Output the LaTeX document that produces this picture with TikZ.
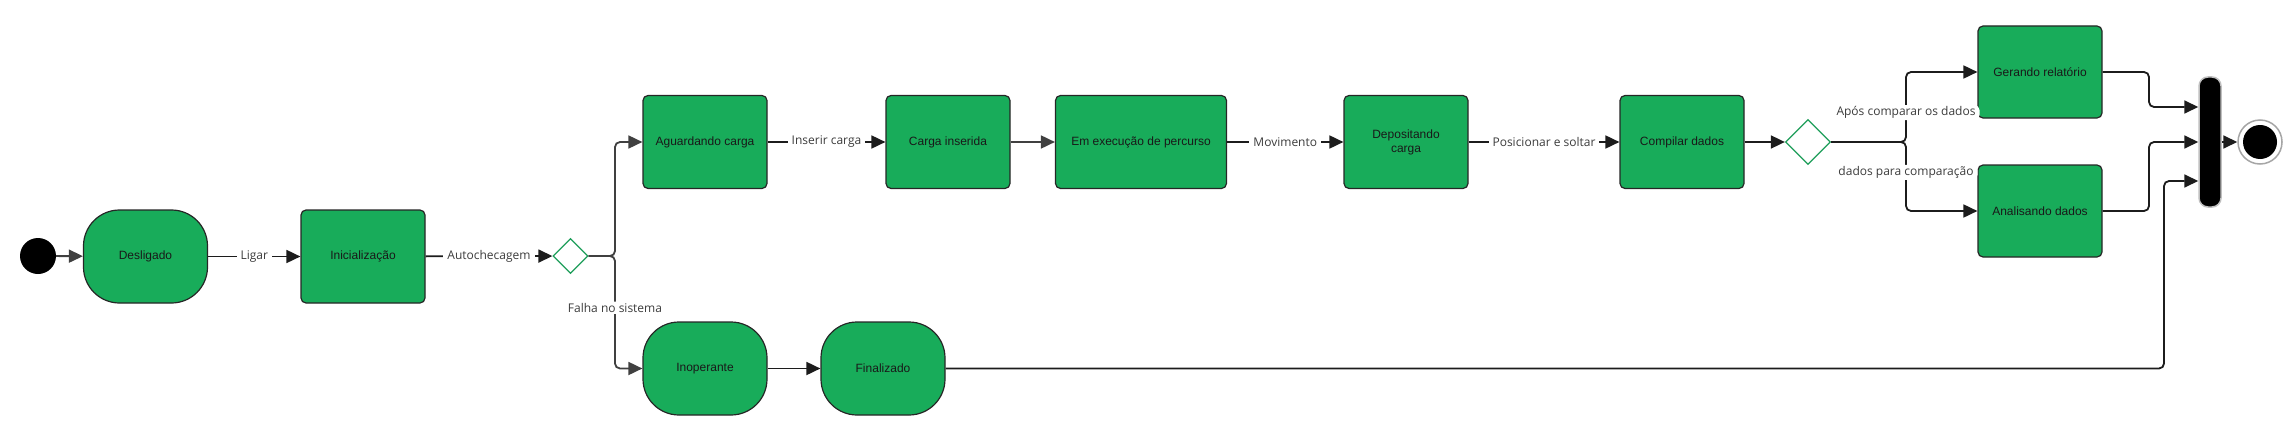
\documentclass[tikz,border=0pt]{standalone}
\usepackage{fontspec}
\setmainfont{Liberation Sans}
\newfontfamily\lblfont{Open Sans}
\usetikzlibrary{arrows.meta,shapes.geometric}
\definecolor{gfill}{RGB}{24,172,90}
\definecolor{gline}{RGB}{30,158,90}
\definecolor{edgec}{RGB}{28,28,28}
\definecolor{edgeg}{RGB}{64,64,64}
\definecolor{lblc}{RGB}{60,60,60}
\begin{document}
\begin{tikzpicture}[x=1pt,y=-1pt,
  state/.style={draw=black!85, fill=gfill, line width=1.2pt, rounded corners=5pt,
    minimum width=124pt, minimum height=93pt, inner sep=0pt,
    font=\fontsize{12}{14}\selectfont, text=black!90, align=center},
  roundstate/.style={state, rounded corners=36pt},
  decision/.style={diamond, draw=gline, fill=white, line width=1.3pt, inner sep=0pt, aspect=1},
  flow/.style={draw=edgec, line width=1.8pt, -{Triangle[length=14pt,width=13pt]}},
  flowg/.style={flow, draw=edgeg},
  lbl/.style={fill=white, text=lblc, font=\lblfont\fontsize{12}{14}\selectfont, inner xsep=4pt, inner ysep=1.5pt},
]
\useasboundingbox (0,0) rectangle (2292,436);

% nodes
\node[circle, fill=black, minimum size=36pt, inner sep=0pt] (start) at (38,256) {};
\node[roundstate] (desl) at (145.5,256.5) {Desligado};
\node[state] (ini) at (363,256.5) {Inicialização};
\node[decision, minimum width=35pt, minimum height=35pt] (d1) at (570.5,256) {};
\node[state] (ag) at (705,142) {Aguardando carga};
\node[state] (ci) at (948,142) {Carga inserida};
\node[state, minimum width=171pt] (ex) at (1141,142) {Em execução de percurso};
\node[state] (dep) at (1406,142) {Depositando\\carga};
\node[state] (comp) at (1682,142) {Compilar dados};
\node[decision, minimum width=45pt, minimum height=45pt] (d2) at (1808,142) {};
\node[state, minimum height=92pt] (ger) at (2040,72) {Gerando relatório};
\node[state, minimum height=92pt] (ana) at (2040,211) {Analisando dados};
\node[draw=black!25, fill=black, line width=1.5pt, rounded corners=9pt,
  minimum width=22pt, minimum height=130pt, inner sep=0pt] (bar) at (2210,142) {};
\node[circle, draw=black!35, fill=white, line width=1.5pt, minimum size=44pt, inner sep=0pt] (endo) at (2260,142) {};
\node[circle, fill=black, minimum size=34pt, inner sep=0pt] (endi) at (2260,142) {};
\node[roundstate] (inop) at (705,368.5) {Inoperante};
\node[roundstate] (fin) at (883,368.5) {Finalizado};

\coordinate (b1) at (615,256);
\coordinate (b2) at (1906,142);
\coordinate (j1) at (2149,107);
\coordinate (j2) at (2149,142);
\coordinate (j3) at (2164,181);

% connectors
\draw[flowg] (start) -- (desl);
\draw[flow] (desl) -- node[lbl]{Ligar} (ini);
\draw[flow] (ini) -- node[lbl]{Autochecagem} (d1);
\draw[flowg, rounded corners=5pt] (d1.east) -- (b1) |- (ag.west);
\draw[flowg, rounded corners=5pt] (d1.east) -- (b1) |- node[lbl, pos=0.23]{Falha no sistema} (inop.west);
\draw[flow] (ag) -- node[lbl]{Inserir carga} (ci);
\draw[flowg] (ci) -- (ex);
\draw[flow] (ex) -- node[lbl]{Movimento} (dep);
\draw[flow] (dep) -- node[lbl]{Posicionar e soltar} (comp);
\draw[flow] (inop) -- (fin);
\draw[flow] (comp) -- (d2);
\draw[flow, rounded corners=5pt] (d2.east) -- (b2) |- node[lbl, pos=0.21]{Após comparar os dados} (ger.west);
\draw[flow, rounded corners=5pt] (d2.east) -- (b2) |- node[lbl, pos=0.22]{dados para comparação} (ana.west);
\draw[flow, rounded corners=5pt] (ger.east) -| (j1) -- (j1 -| bar.west);
\draw[flow, rounded corners=5pt] (ana.east) -| (j2) -- (j2 -| bar.west);
\draw[flow, rounded corners=5pt] (fin.east) -| (j3) -- (j3 -| bar.west);
\draw[flow] (bar) -- (endo);
\end{tikzpicture}
\end{document}
